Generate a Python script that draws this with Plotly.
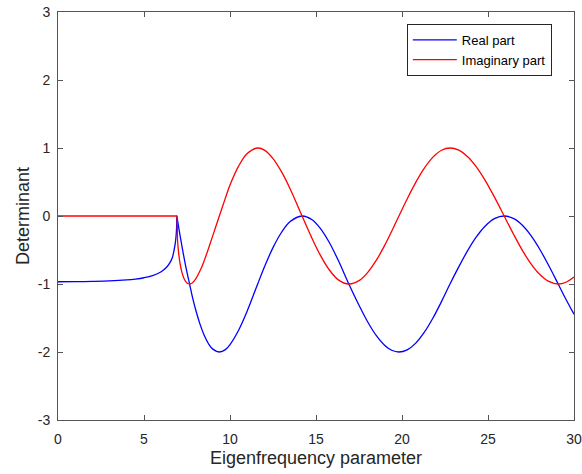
import plotly.graph_objects as go

# Eigenfrequency parameter (x) and the real / imaginary parts of the determinant
freq = [0, 1, 2, 3, 4, 4.5, 5, 5.5, 6, 6.3, 6.5, 6.65, 6.75, 6.82, 6.87, 6.9, 6.91,
        6.95, 7.0, 7.1, 7.2, 7.35, 7.5, 7.65, 7.8, 8.0, 8.25, 8.5, 8.75, 9.0, 9.38,
        9.75, 10.0, 10.5, 11.0, 11.61, 12.0, 12.5, 13.0, 13.5, 14.19,
        14.75, 15.25, 15.75, 16.3, 16.91,
        17.5, 18.0, 18.5, 19.0, 19.4, 19.82,
        20.3, 20.8, 21.3, 21.8, 22.3, 22.79,
        23.3, 23.8, 24.3, 24.8, 25.4, 25.94,
        26.5, 27.0, 27.5, 28.0, 28.5, 29.08,
        29.5, 30]

real_part = [-0.967, -0.966, -0.962, -0.955, -0.940, -0.927, -0.908, -0.877, -0.820, -0.758, -0.690, -0.61, -0.50, -0.40, -0.28, -0.14, 0.0,
             -0.063, -0.141, -0.291, -0.435, -0.640, -0.830, -1.0, -1.174, -1.375, -1.586, -1.754, -1.879, -1.958, -2.0,
             -1.961, -1.891, -1.680, -1.397, -1.0, -0.751, -0.465, -0.239, -0.082, 0.0,
             -0.052, -0.182, -0.379, -0.655, -1.0,
             -1.313, -1.555, -1.757, -1.904, -1.974, -2.0,
             -1.968, -1.869, -1.709, -1.500, -1.256, -1.0,
             -0.748, -0.517, -0.316, -0.157, -0.036, 0.0,
             -0.039, -0.137, -0.289, -0.485, -0.714, -1.0,
             -1.209, -1.444]

imag_part = [0, 0, 0, 0, 0, 0, 0, 0, 0, 0, 0, 0, 0, 0, 0, 0, 0,
             -0.349, -0.512, -0.705, -0.825, -0.933, -0.985, -1.0, -0.985, -0.927, -0.810, -0.657, -0.477, -0.289, 0.0,
             0.277, 0.455, 0.733, 0.918, 1.0, 0.968, 0.845, 0.649, 0.398, 0.0,
             -0.318, -0.575, -0.784, -0.939, -1.0,
             -0.950, -0.832, -0.654, -0.429, -0.225, 0.0,
             0.251, 0.495, 0.705, 0.866, 0.967, 1.0,
             0.968, 0.876, 0.730, 0.538, 0.266, 0.0,
             -0.276, -0.506, -0.703, -0.857, -0.958, -1.0,
             -0.978, -0.896]

series_names = ["Real part", "Imaginary part"]
x_ticks = [0, 5, 10, 15, 20, 25, 30]
x_tick_labels = ["0", "5", "10", "15", "20", "25", "30"]
y_ticks = [-3, -2, -1, 0, 1, 2, 3]
y_tick_labels = ["-3", "-2", "-1", "0", "1", "2", "3"]
x_title = "Eigenfrequency parameter"
y_title = "Determinant"

FONT = "Liberation Sans, Arial, sans-serif"
AX = "#555555"
TXT = "#262626"

fig = go.Figure()
fig.add_trace(go.Scatter(x=freq, y=real_part, mode="lines", name=series_names[0],
                         line=dict(color="#0000ff", width=1.3, shape="spline", smoothing=1.0)))
fig.add_trace(go.Scatter(x=freq, y=imag_part, mode="lines", name=series_names[1],
                         line=dict(color="#ff0000", width=1.3, shape="spline", smoothing=1.0)))

axis_common = dict(showgrid=False, zeroline=False, showline=True, linecolor=AX, linewidth=1,
                   mirror="ticks", ticks="inside", ticklen=5, tickcolor=AX, tickwidth=1,
                   automargin=False, ticklabeloverflow="allow",
                   tickfont=dict(family=FONT, size=14, color=TXT))

fig.update_xaxes(range=[0, 30], tickvals=x_ticks, ticktext=x_tick_labels,
                 title=dict(text=x_title, font=dict(family=FONT, size=18, color=TXT), standoff=5),
                 ticklabelstandoff=6, **axis_common)
fig.update_yaxes(range=[-3, 3], tickvals=y_ticks, ticktext=y_tick_labels,
                 title=dict(text=y_title, font=dict(family=FONT, size=18, color=TXT), standoff=3),
                 ticklabelstandoff=4, **axis_common)

fig.update_layout(
    width=582, height=474,
    margin=dict(l=58, r=8, t=12, b=54, autoexpand=False),
    paper_bgcolor="white", plot_bgcolor="white",
    font=dict(family=FONT, color=TXT),
    legend=dict(x=0.676, y=0.971, xanchor="left", yanchor="top",
                bgcolor="white", bordercolor="#262626", borderwidth=1,
                font=dict(family=FONT, size=13, color="#000000"),
                itemwidth=44, tracegroupgap=0),
    showlegend=True,
)

# remove the default 8px page margin so the figure fills the window exactly
fig.write_html("out.html", config={"displayModeBar": False},
               post_script="document.body.style.margin='0px';document.body.style.overflow='hidden';")
